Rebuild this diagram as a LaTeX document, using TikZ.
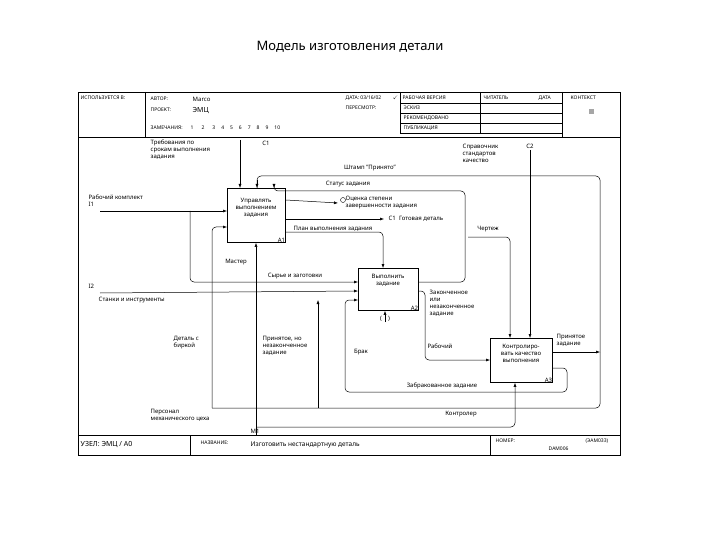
\documentclass[tikz,border=0pt]{standalone}
\usepackage{amssymb}
\usepackage{fontspec}
\setmainfont{Noto Sans}
\usetikzlibrary{arrows.meta,calc}
\begin{document}
\begin{tikzpicture}[x=1pt,y=-1pt,
  t/.style={font=\fontsize{6}{7}\selectfont,inner sep=0.5pt,align=left},
  h/.style={font=\fontsize{5}{6}\selectfont,inner sep=0.5pt,anchor=west},
  box/.style={draw,line width=0.8pt,minimum width=#1,anchor=north west,inner sep=1pt,font=\fontsize{6}{7}\selectfont,align=center},
  ar/.style={-{Latex[length=4pt,width=3pt]},line width=0.5pt,rounded corners=4pt},
  ln/.style={line width=0.5pt,rounded corners=4pt}]
\useasboundingbox (0,0) rectangle (720,540);
\node[font=\fontsize{13}{15}\selectfont] (title) at (350,47) {Модель изготовления детали};
% frame
\draw[line width=0.6pt] (78,92) rectangle (620,455);
\draw (78,137) -- (620,137);
\draw (78,435) -- (620,435);
\draw (145,92) -- (145,137);
\draw (400,92) -- (400,133) (480,92) -- (480,133) (562,92) -- (562,137);
\draw (400,103) -- (562,103) (400,113) -- (562,113) (400,123) -- (562,123) (400,133) -- (562,133);
\node[h] (u) at (80,98) {ИСПОЛЬЗУЕТСЯ В:};
\node[h] (av) at (150,99) {АВТОР:};
\node[h] (avv) at (192,99) {\fontsize{6}{7}\selectfont Marco};
\node[h] (pr) at (150,110) {ПРОЕКТ:};
\node[h] (prv) at (192,111) {\fontsize{7}{8}\selectfont ЭМЦ};
\node[h] (zm) at (150,128) {ЗАМЕЧАНИЯ:\hspace{8pt}1\hspace{8pt}2\hspace{8pt}3\hspace{6pt}4\hspace{6pt}5\hspace{6pt}6\hspace{6pt}7\hspace{6pt}8\hspace{6pt}9\hspace{6pt}10};
\node[h] (dt) at (345,98) {ДАТА: 03/16/02};
\node[h] (ps) at (345,108) {ПЕРЕСМОТР:};
\node[h] (ck) at (392,98) {$\checkmark$};
\node[h] (rv) at (402,98) {РАБОЧАЯ ВЕРСИЯ};
\node[h] (es) at (403,108) {ЭСКИЗ};
\node[h] (rk) at (403,118) {РЕКОМЕНДОВАНО};
\node[h] (pb) at (403,128) {ПУБЛИКАЦИЯ};
\node[h] (ch) at (483,98) {ЧИТАТЕЛЬ};
\node[h] (da) at (538,98) {ДАТА};
\node[h] (kn) at (570,98) {КОНТЕКСТ};
\node[fill=gray!70,minimum size=5pt,inner sep=0] (sq) at (591,112) {};
% footer
\draw (190,435) -- (190,455) (490,435) -- (490,455);
\node[h] (uz) at (80,445) {\fontsize{7}{8}\selectfont УЗЕЛ: ЭМЦ / А0};
\node[h] (nz) at (200,443) {НАЗВАНИЕ:};
\node[h] (nm) at (250,445) {\fontsize{6.5}{8}\selectfont Изготовить нестандартную деталь};
\node[h] (nr) at (495,441) {НОМЕР:};
\node[h] (ea) at (585,441) {(ЭАМ033)};
\node[h] (dm) at (548,449) {DAM006};
% boxes
\node[box=58pt,minimum height=54pt] (A1) at (227,188) {};
\node[box=60pt,minimum height=42pt] (A2) at (358,268) {};
\node[box=62pt,minimum height=44pt] (A3) at (490,338) {};
\node[t,align=center,font=\fontsize{6}{7}\selectfont] (A1t) at (256,208) {Управлять\\выполнением\\задания};
\node[t,align=center,font=\fontsize{6}{7}\selectfont] (A2t) at (388,280) {Выполнить\\задание};
\node[t,align=center,font=\fontsize{6}{7}\selectfont] (A3t) at (521,353) {Контролиро-\\вать качество\\выполнения};
\node[t,anchor=south east] (a1n) at (A1.south east) {A1};
\node[t,anchor=south east] (a2n) at (A2.south east) {A2};
\node[t,anchor=south east] (a3n) at (A3.south east) {A3};
% coordinates
\coordinate (c1) at (240,140);
\coordinate (c2) at (530,150);
\coordinate (i1) at (100,211);
\coordinate (i2) at (100,293);
\coordinate (m1) at (256,435);
\coordinate (o1) at (338,203);
\coordinate (o2) at (384,219);
% labels
\node[t,anchor=north west] (lc1) at (150,139) {Требования по\\срокам выполнения\\задания};
\node[t] (c1l) at (266,143) {C1};
\node[t,anchor=north west] (lc2) at (462,143) {Справочник\\стандартов\\качество};
\node[t] (c2l) at (530,146) {C2};
\node[t] (shp) at (370,168) {Штамп "Принято"};
\node[t] (stz) at (348,184) {Статус задания};
\node[t,anchor=north west] (oc) at (345,195) {Оценка степени\\завершенности задания};
\node[t,anchor=west] (gd) at (388,219) {C1\ \ Готовая деталь};
\node[t] (pv) at (333,229) {План выполнения задания};
\node[t] (chr) at (488,229) {Чертеж};
\node[t,anchor=west] (rk1) at (88,201) {Рабочий комплект\\I1};
\node[t] (ms) at (236,262) {Мастер};
\node[t] (sz) at (295,276) {Сырье и заготовки};
\node[t,anchor=west] (i2l) at (88,286) {I2};
\node[t,anchor=west] (st) at (98,300) {Станки и инструменты};
\node[t,anchor=north west] (zk) at (429,289) {Законченное\\или\\незаконченное\\задание};
\node[t,anchor=north west] (dsb) at (173,336) {Деталь с\\биркой};
\node[t,anchor=north west] (pnz) at (262,336) {Принятое, но\\незаконченное\\задание};
\node[t] (br) at (361,352) {Брак};
\node[t] (rb) at (440,346) {Рабочий};
\node[t,anchor=north west] (prz) at (556,334) {Принятое\\задание};
\node[t] (zbz) at (442,386) {Забракованное задание};
\node[t,anchor=north west] (pmc) at (150,409) {Персонал\\механического цеха};
\node[t] (ktr) at (461,414) {Контролер};
\node[t] (m1l) at (255,431) {M1};
% connectors
\draw[ar] (c1) -- (A1.north -| c1);
\draw[ar] (c2) -- (A3.north -| c2);
\draw[ar] (i1) -- (A1.west |- i1);
\draw[ar] (m1) -- (A1.south -| m1);
\draw[ar] ($(A1.north east)+(0,12)$) -- (o1);
\draw (o1) ++(5,-3) circle (2.5pt);
\draw[ar] ($(A1.north east)+(0,31)$) -- (o2);
\draw[ar] ($(A1.north east)+(0,44)$) -- (383,232) -- (A2.north -| 383,0);
% status loop from A2 output
\draw[ar] (A2.east |- 0,282) -- (465,282) -- (465,191) -- (274,191) -- (A1.north -| 274,0);
% Штамп loop
\draw[ar] (A3.east |- 0,352) -- (600,352);
\draw[ln] (600,352) -- (600,176) -- (257,176) -- (257,188);
\draw[-{Latex[length=4pt,width=3pt]},line width=0.5pt] (257,180) -- (A1.north -| 257,0);
\draw[ln] (600,352) -- (600,408) -- (212,408);
\draw[ar] (212,408) -- (212,227) -- (A1.west |- 0,227);
\draw[ar] (318,408) -- (318,300);
% Сырье
\draw[ar] (190,211) -- (190,282) -- (A2.west |- 0,282);
\draw[ar] (i2) -- (A2.west |- 0,291);
% A2 output to A3
\draw[ar] (A2.east |- 0,291) -- (425,291) -- (425,360) -- (A3.west |- 0,360);
% Брак loop
\draw[ar] (A3.east |- 0,368) -- (567,368) -- (567,392) -- (345,392) -- (345,300) -- (A2.west |- 0,300);
% Чертеж
\draw[ar] (468,237) -- (510,237) -- (A3.north -| 510,0);
% Контролер
\draw[ar] (256,427) -- (515,427) -- (A3.south -| 515,0);
% Рабочий tunnel
\draw[ar] (385,322) -- (A2.south -| 385,0);
\node[t] (tun) at (385,319) {(\quad)};
\end{tikzpicture}
\end{document}
